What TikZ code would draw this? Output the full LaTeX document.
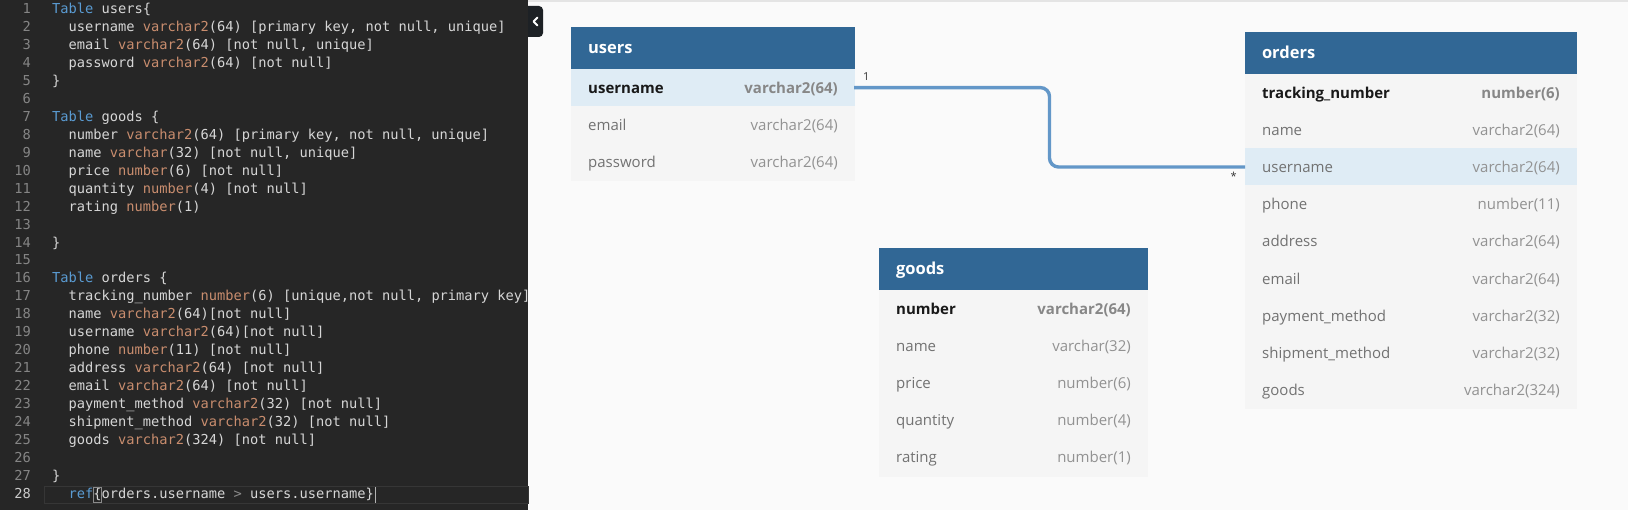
\documentclass[tikz,border=0pt]{standalone}
\usepackage{fontspec}
\setmainfont{Open Sans}
\newfontfamily\codefont{DejaVu Sans Mono}
\usetikzlibrary{positioning, calc}

\definecolor{editorbg}{HTML}{262626}
\definecolor{curline}{HTML}{363636}
\definecolor{codetext}{HTML}{D6D6D6}
\definecolor{lnumgray}{HTML}{858585}
\definecolor{kwblue}{HTML}{5A9BD2}
\definecolor{tyorange}{HTML}{C98D6E}
\definecolor{opgray}{HTML}{8A8A8A}
\definecolor{canvasbg}{HTML}{FAFAFA}
\definecolor{topline}{HTML}{E4E4E4}
\definecolor{tabdark}{HTML}{1D2125}
\definecolor{headblue}{HTML}{316795}
\definecolor{rowbg}{HTML}{F5F5F5}
\definecolor{rowsel}{HTML}{DFECF5}
\definecolor{fieldgray}{HTML}{727272}
\definecolor{typegray}{HTML}{929292}
\definecolor{relblue}{HTML}{6397C8}

\newcommand\kw[1]{\textcolor{kwblue}{#1}}
\newcommand\ty[1]{\textcolor{tyorange}{#1}}
\newcommand\codesize{\codefont\fontsize{13.7}{18}\selectfont}
\newcommand\tablesize{\fontsize{15}{18}\selectfont}

\tikzset{
  code/.style={anchor=base west, inner sep=0pt, text=codetext, font=\codesize},
  lnum/.style={anchor=base east, inner sep=0pt, text=lnumgray, font=\codesize},
  head/.style={anchor=north west, fill=headblue, draw=headblue, line width=0.6pt, outer sep=0pt, text=white,
    inner xsep=17pt, inner ysep=0pt, minimum height=41.5pt, text height=11pt, text depth=0pt,
    align=left, font=\bfseries\fontsize{16.5}{20}\selectfont},
  row/.style={fill=rowbg, draw=rowbg, line width=0.6pt, outer sep=0pt, inner sep=0pt, minimum height=37.2pt},
  selrow/.style={row, fill=rowsel, draw=rowsel},
  fname/.style={anchor=west, inner sep=0pt, text height=11pt, text depth=0pt, text=fieldgray, font=\tablesize},
  ftype/.style={anchor=east, inner sep=0pt, text height=11pt, text depth=0pt, text=typegray, font=\tablesize},
  keyname/.style={fname, text=black!90, font=\bfseries\tablesize},
  keytype/.style={ftype, text=black!47, font=\bfseries\tablesize},
  rel/.style={draw=relblue, line width=3.4pt, rounded corners=9pt},
  card/.style={inner sep=0pt, text=black!80, font=\fontsize{11}{13}\selectfont}
}

\begin{document}
\begin{tikzpicture}[x=1pt, y=-1pt, node distance=0pt]
  \useasboundingbox (0,0) rectangle (1628,510);
  \fill[canvasbg] (0,0) rectangle (1628,510);
  \fill[topline] (528,0) rectangle (1628,2.5);
  \fill[tabdark, rounded corners=4pt] (518,6) rectangle (543,37);
  \fill[editorbg] (0,0) rectangle (528,510);
  \draw[white, line width=2pt, line cap=round, line join=round] (537.5,17.5) -- (533.5,21.5) -- (537.5,25.5);

  % editor
  \draw[curline, fill=editorbg] (44,486.5) rectangle (528,503);
  \foreach \k in {1,...,27}
    \node[lnum] (n\k) at (31, {13.7+17.95*(\k-1)}) {\k};
  \node[lnum, text=black!20] (n28) at (31,498.35) {28};
  \begin{scope}
    \clip (44,0) rectangle (528,510);
    \node[code] (l1) at (52,13.7) {\kw{Table} users\{};
    \node[code] (l2) at (68.4,31.65) {username \ty{varchar2}(64) [primary key, not null, unique]};
    \node[code] (l3) at (68.4,49.6) {email \ty{varchar2}(64) [not null, unique]};
    \node[code] (l4) at (68.4,67.55) {password \ty{varchar2}(64) [not null]};
    \node[code] (l5) at (52,85.5) {\}};
    \node[code] (l7) at (52,121.4) {\kw{Table} goods \{};
    \node[code] (l8) at (68.4,139.35) {number \ty{varchar2}(64) [primary key, not null, unique]};
    \node[code] (l9) at (68.4,157.3) {name \ty{varchar}(32) [not null, unique]};
    \node[code] (l10) at (68.4,175.25) {price \ty{number}(6) [not null]};
    \node[code] (l11) at (68.4,193.2) {quantity \ty{number}(4) [not null]};
    \node[code] (l12) at (68.4,211.15) {rating \ty{number}(1)};
    \node[code] (l14) at (52,247.05) {\}};
    \node[code] (l16) at (52,282.95) {\kw{Table} orders \{};
    \node[code] (l17) at (68.4,300.9) {tracking\_number \ty{number}(6) [unique,not null, primary key]};
    \node[code] (l18) at (68.4,318.85) {name \ty{varchar2}(64)[not null]};
    \node[code] (l19) at (68.4,336.8) {username \ty{varchar2}(64)[not null]};
    \node[code] (l20) at (68.4,354.75) {phone \ty{number}(11) [not null]};
    \node[code] (l21) at (68.4,372.7) {address \ty{varchar2}(64) [not null]};
    \node[code] (l22) at (68.4,390.65) {email \ty{varchar2}(64) [not null]};
    \node[code] (l23) at (68.4,408.6) {payment\_method \ty{varchar2}(32) [not null]};
    \node[code] (l24) at (68.4,426.55) {shipment\_method \ty{varchar2}(32) [not null]};
    \node[code] (l25) at (68.4,444.5) {goods \ty{varchar2}(324) [not null]};
    \node[code] (l27) at (52,480.4) {\}};
    \node[code] (l28) at (68.4,498.35) {\kw{ref}\{orders.username \textcolor{opgray}{>} users.username\}};
  \end{scope}
  \draw[opgray, line width=0.6pt] ([xshift=24.7pt, yshift=-4pt]l28.base west) rectangle ([xshift=33pt, yshift=11.5pt]l28.base west);
  \draw[black!30, line width=1.6pt] ([xshift=1.5pt, yshift=-4.5pt]l28.base east) -- ([xshift=1.5pt, yshift=11pt]l28.base east);

  % users
  \node[head, text width=249pt] (users) at (571,27.5) {users};
  \node[selrow, minimum width=283pt] (u1) [below=of users] {};
  \node[keyname] (un1) at ([xshift=17pt]u1.west) {username};
  \node[keytype] (ut1) at ([xshift=-16pt]u1.east) {varchar2(64)};
  \foreach \n/\t [count=\i from 2, remember=\i as \j (initially 1)] in {email/varchar2(64), password/varchar2(64)} {
    \node[row, minimum width=283pt] (u\i) [below=of u\j] {};
    \node[fname] (un\i) at ([xshift=17pt]u\i.west) {\n};
    \node[ftype] (ut\i) at ([xshift=-16pt]u\i.east) {\t};
  }

  % goods
  \node[head, text width=234pt] (goods) at (879,248.5) {goods};
  \node[row, minimum width=268pt] (g1) [below=of goods] {};
  \node[keyname] (gn1) at ([xshift=17pt]g1.west) {number};
  \node[keytype] (gt1) at ([xshift=-16pt]g1.east) {varchar2(64)};
  \foreach \n/\t [count=\i from 2, remember=\i as \j (initially 1)] in {name/varchar(32), price/number(6), quantity/number(4), rating/number(1)} {
    \node[row, minimum width=268pt] (g\i) [below=of g\j] {};
    \node[fname] (gn\i) at ([xshift=17pt]g\i.west) {\n};
    \node[ftype] (gt\i) at ([xshift=-16pt]g\i.east) {\t};
  }

  % orders
  \node[head, text width=297pt] (orders) at (1245,32.5) {orders};
  \node[row, minimum width=331pt] (o1) [below=of orders] {};
  \node[keyname] (on1) at ([xshift=17pt]o1.west) {tracking\_number};
  \node[keytype] (ot1) at ([xshift=-16pt]o1.east) {number(6)};
  \foreach \n/\t/\s [count=\i from 2, remember=\i as \j (initially 1)] in {name/varchar2(64)/row, username/varchar2(64)/selrow, phone/number(11)/row, address/varchar2(64)/row, email/varchar2(64)/row, payment\_method/varchar2(32)/row, shipment\_method/varchar2(32)/row, goods/varchar2(324)/row} {
    \node[\s, minimum width=331pt] (o\i) [below=of o\j] {};
    \node[fname] (on\i) at ([xshift=17pt]o\i.west) {\n};
    \node[ftype] (ot\i) at ([xshift=-16pt]o\i.east) {\t};
  }

  % relation
  \draw[rel] (u1.east) -| ($(u1.east)!.5!(o3.west)$) |- (o3.west);
  \node[card, anchor=base west] (one) at ([xshift=9pt, yshift=7.5pt]u1.east) {1};
  \node[card, anchor=base east] (many) at ([xshift=-8pt, yshift=-13.5pt]o3.west) {*};
\end{tikzpicture}
\end{document}
